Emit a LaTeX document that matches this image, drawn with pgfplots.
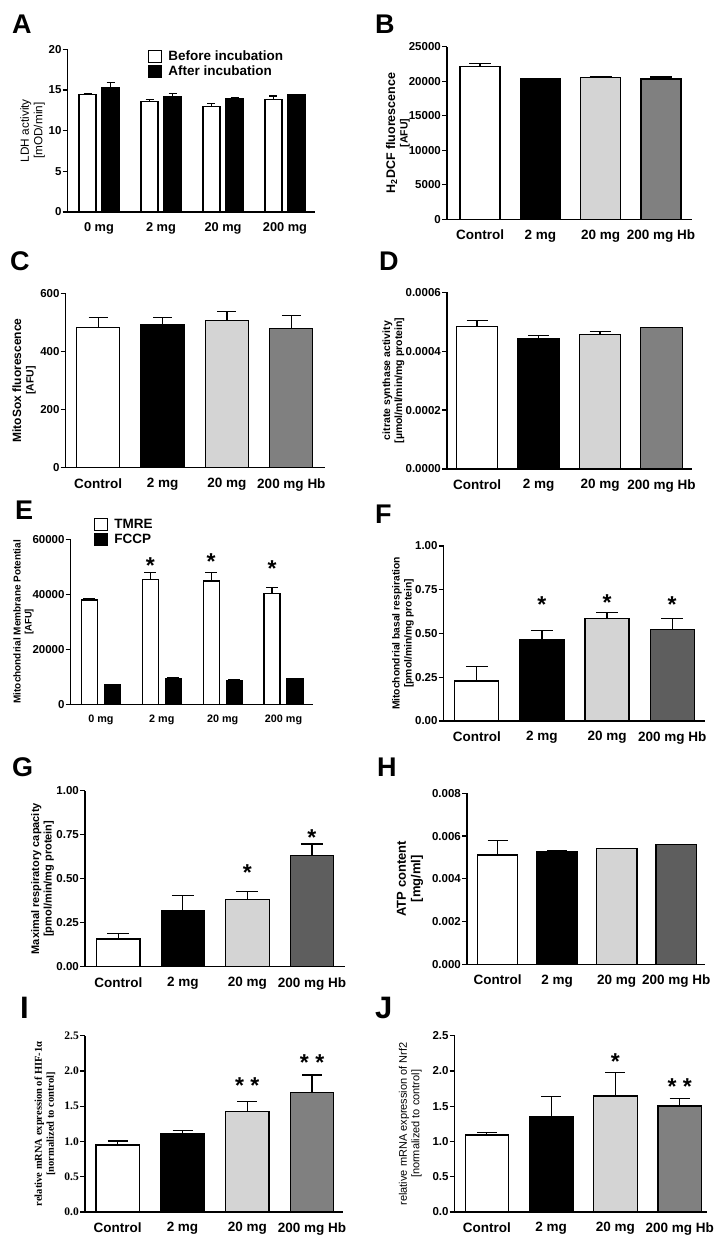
\documentclass[border=0pt]{standalone}
\usepackage{fontspec}
\setmainfont{Liberation Sans}
\newfontfamily\tnr{Liberation Serif}
\usepackage{pgfplots}
\pgfplotsset{compat=1.18}
\newcommand{\fs}[1]{\fontsize{#1}{#1}\selectfont}
\tikzset{sig/.style={anchor=north, inner sep=0pt, font=\fs{23}\bfseries}}
\pgfplotsset{
  panel/.style={
    scale only axis, anchor=south west, clip=false,
    axis x line=bottom, axis y line=left,
    axis line style={-, line width=1.3pt},
    tick style={black, line width=1.2pt},
    tick align=outside, major tick length=5pt,
    xtick style={draw=none},
    ymin=0, xtick={0,1,2,3},
    xticklabels={Control,2 mg,20 mg,200 mg Hb},
    /pgf/number format/assume math mode=true,
    /pgf/number format/1000 sep={},
    scaled y ticks=false,
    yticklabel style={font=\fs{11.5}\bfseries, inner sep=1pt},
    xticklabel style={font=\fs{13.5}\bfseries, yshift=-2pt},
    ylabel style={align=center, anchor=center},
  },
  bars/.style={ybar, bar shift=0pt, draw=black, line width=1.2pt,
    error bars/y dir=plus, error bars/y explicit,
    error bars/error bar style={line width=1.2pt, black},
    error bars/error mark options={rotate=90, line width=1.2pt, mark size=#1}},
  c0/.style={fill=white},
  c1/.style={fill=black},
  c2/.style={fill=black!17},
  c3/.style={fill=black!50},
  c4/.style={fill=black!63},
  sqlegend/.style={legend image code/.code={\draw[##1,/tikz/.cd,line width=1.2pt] (0pt,-6pt) rectangle (13pt,6pt);}},
}
\begin{document}
\begin{tikzpicture}
\path[use as bounding box] (0,0) rectangle (725pt,1244pt);
% panel letters
\node[anchor=north west, inner sep=0pt, font=\fs{27}\bfseries] at (12pt,1229pt) {A};
\node[anchor=north west, inner sep=0pt, font=\fs{27}\bfseries] at (375pt,1229pt) {B};
\node[anchor=north west, inner sep=0pt, font=\fs{27}\bfseries] at (10pt,993pt) {C};
\node[anchor=north west, inner sep=0pt, font=\fs{27}\bfseries] at (379pt,992pt) {D};
\node[anchor=north west, inner sep=0pt, font=\fs{27}\bfseries] at (15pt,743pt) {E};
\node[anchor=north west, inner sep=0pt, font=\fs{27}\bfseries] at (375pt,739pt) {F};
\node[anchor=north west, inner sep=0pt, font=\fs{27}\bfseries] at (12pt,487pt) {G};
\node[anchor=north west, inner sep=0pt, font=\fs{27}\bfseries] at (377pt,486pt) {H};
\node[anchor=north west, inner sep=0pt, font=\fs{31}\bfseries] at (20pt,247pt) {I};
\node[anchor=north west, inner sep=0pt, font=\fs{31}\bfseries] at (375pt,247pt) {J};

% ---------- A ----------
\begin{axis}[panel, at={(67.7pt,1032pt)}, width=247.3pt, height=162.7pt,
  xmin=-0.505, xmax=3.484, ymax=20, ytick={0,5,10,15,20},
  xticklabels={0 mg,2 mg,20 mg,200 mg},
  xticklabel style={font=\fs{12.8}\bfseries},
  ylabel={LDH activity\\\relax [mOD/min]},
  ylabel style={font=\fontsize{11.8}{13.5}\selectfont, at={(axis description cs:-0.142,0.5)}},
  sqlegend, legend cell align=left,
  legend style={at={(axis description cs:0.325,0.996)}, anchor=north west, draw=none, fill=none,
    inner sep=0pt, font=\fs{13.5}\bfseries, nodes={inner sep=1pt}, row sep=1.5pt, column sep=5pt}]
% Before incubation (left bar of each pair)
\addplot[bars=4pt, c0, bar width=17pt] coordinates {
  (-0.1855,14.47) +- (0,0.03) (0.8145,13.57) +- (0,0.28) (1.8145,13.0) +- (0,0.3) (2.8145,13.85) +- (0,0.41)};
% After incubation (right bar of each pair)
\addplot[bars=4pt, c1, bar width=17pt] coordinates {
  (0.1855,15.3) +- (0,0.6) (1.1855,14.18) +- (0,0.42) (2.1855,13.97) +- (0,0.03) (3.1855,14.39) +- (0,0.06)};
\legend{Before incubation, After incubation}
\end{axis}

% ---------- B ----------
\begin{axis}[panel, at={(447pt,1024.7pt)}, width=245pt, height=172.6pt,
  xmin=-0.548, xmax=3.513, ymax=25000, ytick={0,5000,10000,15000,20000,25000},
  ylabel={H\textsubscript{2}DCF fluorescence\\\relax {\fs{10.5}[AFU]}},
  ylabel style={font=\fontsize{12.5}{12.5}\selectfont\bfseries, at={(axis description cs:-0.2,0.5)}}]
\addplot[bars=11pt, c0, bar width=40pt] coordinates {(0,22100) +- (0,490)};
\addplot[bars=11pt, c1, bar width=40pt] coordinates {(1,20370) +- (0,0)};
\addplot[bars=11pt, c2, bar width=40pt] coordinates {(2,20510) +- (0,150)};
\addplot[bars=11pt, c3, bar width=40pt] coordinates {(3,20320) +- (0,290)};
\end{axis}

% ---------- C ----------
\begin{axis}[panel, at={(65.7pt,776.3pt)}, width=259.3pt, height=174.4pt,
  xmin=-0.503, xmax=3.522, ymax=600, ytick={0,200,400,600},
  ylabel={MitoSox fluorescence\\\relax {\fs{10.5}[AFU]}},
  ylabel style={font=\fontsize{12}{12.5}\selectfont\bfseries, at={(axis description cs:-0.160,0.5)}}]
\addplot[bars=9.5pt, c0, bar width=43pt] coordinates {(0,482) +- (0,34)};
\addplot[bars=9.5pt, c1, bar width=43pt] coordinates {(1,492) +- (0,25)};
\addplot[bars=9.5pt, c2, bar width=43pt] coordinates {(2,506) +- (0,30)};
\addplot[bars=9.5pt, c3, bar width=43pt] coordinates {(3,480) +- (0,43)};
\end{axis}

% ---------- D ----------
\begin{axis}[panel, at={(447pt,775pt)}, width=245pt, height=176.7pt,
  xmin=-0.489, xmax=3.495, ymax=0.0006, ytick={0,0.0002,0.0004,0.0006},
  /pgf/number format/fixed, /pgf/number format/fixed zerofill, /pgf/number format/precision=4,
  ylabel={citrate synthase activity\\\relax [µmol/ml/min/mg protein]},
  ylabel style={font=\fontsize{10.5}{12}\selectfont\bfseries, at={(axis description cs:-0.219,0.5)}}]
\addplot[bars=10.5pt, c0, bar width=41.5pt] coordinates {(0,0.000483) +- (0,0.000021)};
\addplot[bars=10.5pt, c1, bar width=41.5pt] coordinates {(1,0.000444) +- (0,0.000008)};
\addplot[bars=10.5pt, c2, bar width=41.5pt] coordinates {(2,0.000457) +- (0,0.000009)};
\addplot[bars=10.5pt, c3, bar width=41.5pt] coordinates {(3,0.000481) +- (0,0)};
\end{axis}

% ---------- E ----------
\begin{axis}[panel, at={(70.7pt,539.7pt)}, width=242.6pt, height=165pt,
  xmin=-0.496, xmax=3.489, ymax=60000, ytick={0,20000,40000,60000},
  xticklabels={0 mg,2 mg,20 mg,200 mg},
  xticklabel style={font=\fs{10.8}\bfseries},
  ylabel={Mitochondrial Membrane Potential\\\relax {\fs{9.5}[AFU]}},
  ylabel style={font=\fontsize{10}{11}\selectfont\bfseries, at={(axis description cs:-0.195,0.5)}},
  sqlegend, legend cell align=left,
  legend style={at={(axis description cs:0.096,1.129)}, anchor=north west, draw=none, fill=none,
    inner sep=0pt, font=\fs{13.5}\bfseries, nodes={inner sep=1pt}, row sep=1.5pt, column sep=5pt}]
% TMRE (left bar of each pair)
\addplot[bars=6pt, c0, bar width=16pt] coordinates {
  (-0.189,37940) +- (0,610) (0.811,45450) +- (0,2550) (1.811,44850) +- (0,3150) (2.811,40240) +- (0,2310)};
% FCCP (right bar of each pair)
\addplot[bars=6pt, c1, bar width=16pt] coordinates {
  (0.189,7030) +- (0,0) (1.189,9450) +- (0,370) (2.189,8730) +- (0,100) (3.189,9210) +- (0,100)};
\legend{TMRE, FCCP}
\node[sig] at (axis cs:0.811,53450) {*};
\node[sig] at (axis cs:1.811,54900) {*};
\node[sig] at (axis cs:2.811,52470) {*};
\end{axis}

% ---------- F ----------
\begin{axis}[panel, at={(443.7pt,523pt)}, width=261.6pt, height=175pt,
  xmin=-0.509, xmax=3.509, ymax=1, ytick={0,0.25,0.5,0.75,1},
  /pgf/number format/fixed, /pgf/number format/fixed zerofill, /pgf/number format/precision=2,
  ylabel={Mitochondrial basal respiration\\\relax [pmol/min/mg protein]},
  ylabel style={font=\fontsize{10.3}{12}\selectfont\bfseries, at={(axis description cs:-0.156,0.5)}}]
\addplot[bars=11pt, c0, bar width=44pt] coordinates {(0,0.2286) +- (0,0.081)};
\addplot[bars=11pt, c1, bar width=44pt] coordinates {(1,0.465) +- (0,0.053)};
\addplot[bars=11pt, c2, bar width=44pt] coordinates {(2,0.587) +- (0,0.034)};
\addplot[bars=11pt, c4, bar width=44pt] coordinates {(3,0.524) +- (0,0.063)};
\node[sig] at (axis cs:1,0.714) {*};
\node[sig] at (axis cs:2,0.724) {*};
\node[sig] at (axis cs:3,0.710) {*};
\end{axis}

% ---------- G ----------
\begin{axis}[panel, at={(85pt,277.3pt)}, width=260pt, height=176pt,
  xmin=-0.516, xmax=3.512, ymax=1, ytick={0,0.25,0.5,0.75,1},
  /pgf/number format/fixed, /pgf/number format/fixed zerofill, /pgf/number format/precision=2,
  ylabel={Maximal respiratory capacity\\\relax [pmol/min/mg protein]},
  ylabel style={font=\fontsize{11}{12.5}\selectfont\bfseries, at={(axis description cs:-0.163,0.5)}}]
\addplot[bars=11pt, c0, bar width=43.5pt] coordinates {(0,0.157) +- (0,0.032)};
\addplot[bars=11pt, c1, bar width=43.5pt] coordinates {(1,0.32) +- (0,0.085)};
\addplot[bars=11pt, c2, bar width=43.5pt] coordinates {(2,0.381) +- (0,0.045)};
\addplot[bars=11pt, c4, bar width=43.5pt] coordinates {(3,0.631) +- (0,0.066)};
\node[sig] at (axis cs:2,0.578) {*};
\node[sig] at (axis cs:3,0.781) {*};
\end{axis}

% ---------- H ----------
\begin{axis}[panel, at={(467pt,279.7pt)}, width=238.3pt, height=171pt,
  xmin=-0.512, xmax=3.487, ymax=0.008, ytick={0,0.002,0.004,0.006,0.008},
  /pgf/number format/fixed, /pgf/number format/fixed zerofill, /pgf/number format/precision=3,
  ylabel={ATP content\\\relax [mg/ml]},
  ylabel style={font=\fontsize{13}{14.5}\selectfont\bfseries, at={(axis description cs:-0.239,0.5)}}]
\addplot[bars=10pt, c0, bar width=40.5pt] coordinates {(0,0.005115) +- (0,0.00067)};
\addplot[bars=10pt, c1, bar width=40.5pt] coordinates {(1,0.00527) +- (0,0.00005)};
\addplot[bars=10pt, c2, bar width=40.5pt] coordinates {(2,0.00541) +- (0,0)};
\addplot[bars=10pt, c4, bar width=40.5pt] coordinates {(3,0.0056) +- (0,0)};
\end{axis}

% ---------- I ----------
\begin{axis}[panel, at={(85pt,32pt)}, width=258.3pt, height=176.3pt,
  xmin=-0.505, xmax=3.482, ymax=2.5, ytick={0,0.5,1,1.5,2,2.5},
  /pgf/number format/fixed, /pgf/number format/fixed zerofill, /pgf/number format/precision=1,
  yticklabel style={font=\fs{11.5}\tnr\bfseries},
  ylabel={relative mRNA expression of HIF-1α\\\relax [normalized to control]},
  ylabel style={font=\fontsize{10.5}{12}\tnr\bfseries, at={(axis description cs:-0.155,0.5)}}]
\addplot[bars=10pt, c0, bar width=43.5pt] coordinates {(0,0.95) +- (0,0.057)};
\addplot[bars=10pt, c1, bar width=43.5pt] coordinates {(1,1.106) +- (0,0.047)};
\addplot[bars=10pt, c2, bar width=43.5pt] coordinates {(2,1.422) +- (0,0.142)};
\addplot[bars=10pt, c3, bar width=43.5pt] coordinates {(3,1.692) +- (0,0.25)};
\node[sig] at (axis cs:2,1.91) {* *};
\node[sig] at (axis cs:3,2.24) {* *};
\end{axis}

% ---------- J ----------
\begin{axis}[panel, at={(454.7pt,32pt)}, width=252.3pt, height=176.3pt,
  xmin=-0.5, xmax=3.424, ymax=2.5, ytick={0,0.5,1,1.5,2,2.5},
  /pgf/number format/fixed, /pgf/number format/fixed zerofill, /pgf/number format/precision=1,
  ylabel={relative mRNA expression of Nrf2\\\relax [normalized to control]},
  ylabel style={font=\fontsize{11}{12.5}\selectfont, at={(axis description cs:-0.176,0.5)}}]
\addplot[bars=10pt, c0, bar width=43.5pt] coordinates {(0,1.092) +- (0,0.033)};
\addplot[bars=10pt, c1, bar width=43.5pt] coordinates {(1,1.352) +- (0,0.283)};
\addplot[bars=10pt, c2, bar width=43.5pt] coordinates {(2,1.645) +- (0,0.331)};
\addplot[bars=10pt, c3, bar width=43.5pt] coordinates {(3,1.503) +- (0,0.109)};
\node[sig] at (axis cs:2,2.25) {*};
\node[sig] at (axis cs:3,1.896) {* *};
\end{axis}
\end{tikzpicture}
\end{document}
